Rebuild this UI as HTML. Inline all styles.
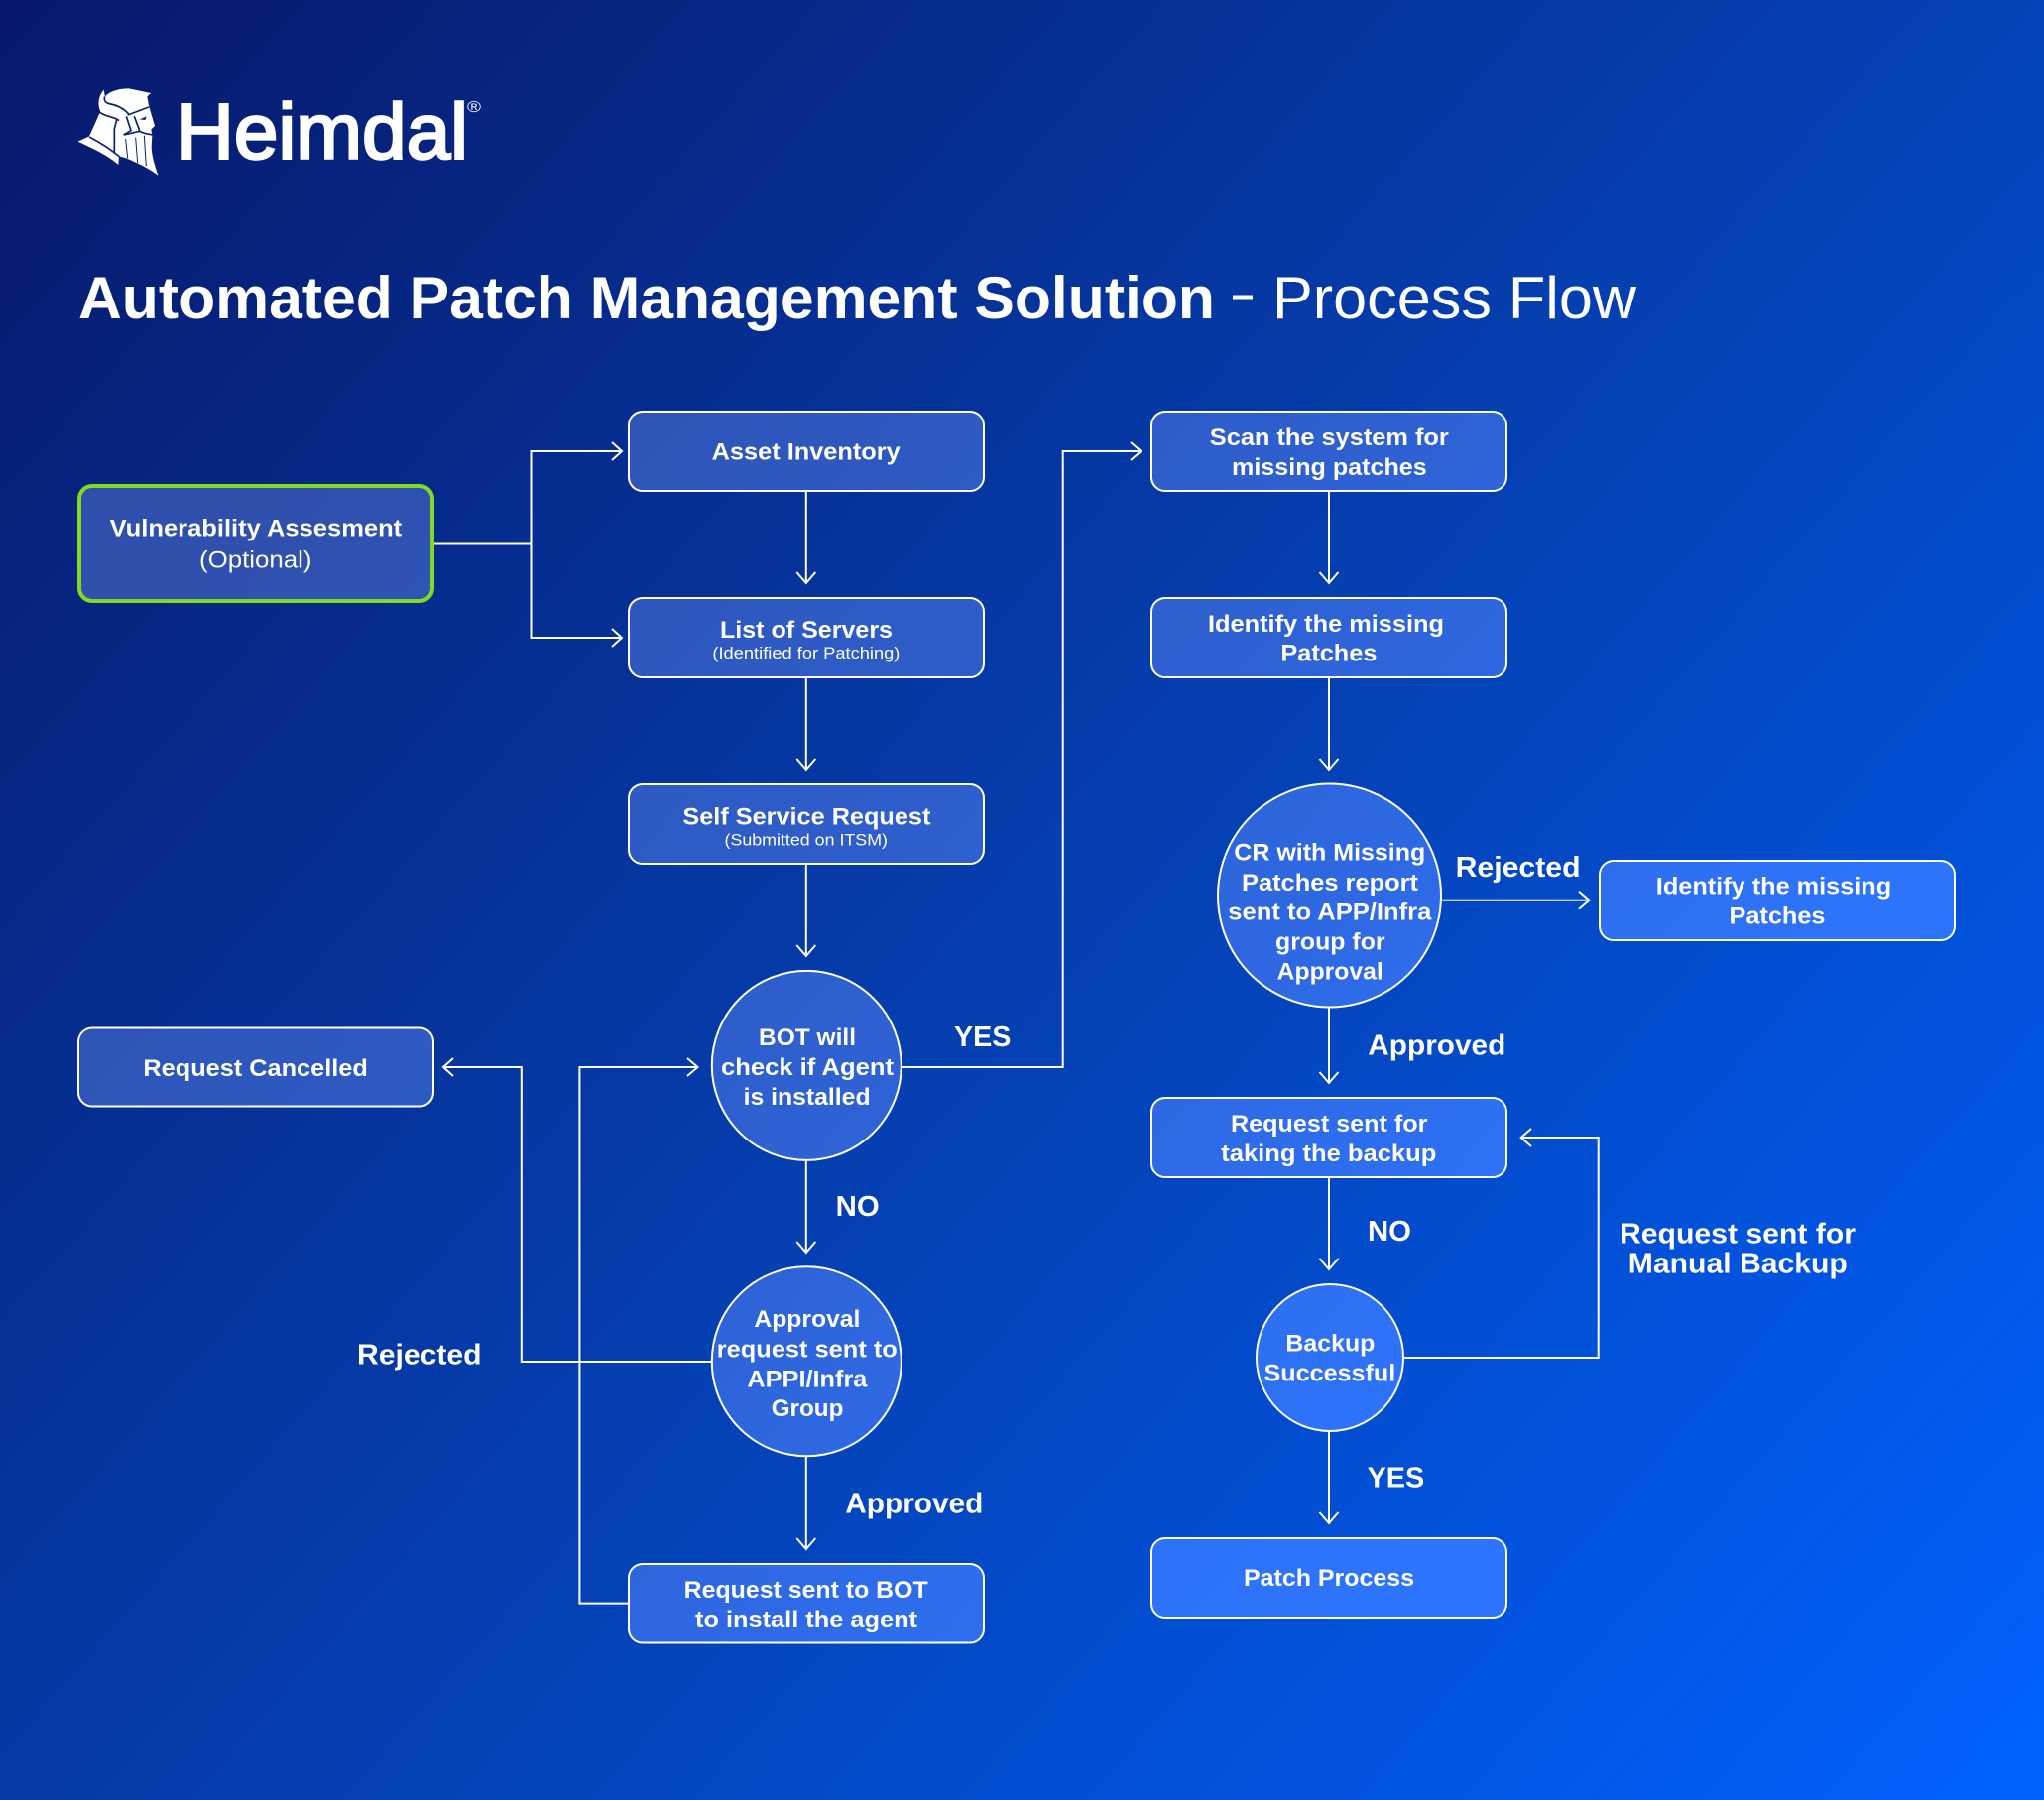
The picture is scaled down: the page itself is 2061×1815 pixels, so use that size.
<!DOCTYPE html>
<html><head><meta charset="utf-8"><title>Automated Patch Management Solution - Process Flow</title>
<style>
html,body{margin:0;padding:0;width:2061px;height:1815px;overflow:hidden;background:#053eae}
svg{display:block}
text{font-family:"Liberation Sans",sans-serif;fill:#fff;font-weight:700;font-size:24.5px}
.r{font-weight:400}
.s{font-weight:400;font-size:16.5px}
.l{font-size:28.5px}
.b{fill:url(#f);stroke:#fff;stroke-width:2}
.c{fill:none;stroke:#fff;stroke-width:2}
</style></head><body>
<svg width="2061" height="1815" viewBox="0 0 2061 1815" xmlns="http://www.w3.org/2000/svg">
<defs>
<linearGradient id="g" gradientUnits="userSpaceOnUse" x1="0" y1="0" x2="2061" y2="1815">
<stop offset="0" stop-color="#07186a"/><stop offset=".5" stop-color="#053eae"/><stop offset="1" stop-color="#0062ff"/></linearGradient>
<linearGradient id="f" gradientUnits="userSpaceOnUse" x1="0" y1="0" x2="2061" y2="1815">
<stop offset=".2" stop-color="#2f50ad"/><stop offset=".48" stop-color="#2e60d0"/><stop offset=".73" stop-color="#2d74fb"/><stop offset="1" stop-color="#2d78ff"/></linearGradient>
</defs>
<rect width="2061" height="1815" fill="url(#g)"/>

<!-- logo -->
<g transform="translate(70,80) scale(.3333)">
<path fill="#fff" d="M104 32C88 50 84 78 94 97L60 172L26 188C60 205 110 225 148 258L150 232L172 238C195 248 235 265 268 290C260 265 250 240 248 205L250 170L247 152L258 141L240 80L235 52L246 42L180 28C150 28 122 36 108 52C106 45 105 38 104 32Z"/>
<g fill="none" stroke="#08216f" stroke-width="5">
<path d="M107 52C103 66 110 72 125 75C150 80 168 92 180 106"/>
<path d="M92 100C112 115 135 112 150 125"/>
<path d="M176 108L240 84"/>
<path d="M196 112L212 155"/>
<path d="M172 112L186 155L164 168"/>
<path d="M164 168L212 157C225 165 238 165 252 168"/>
<path d="M143 122L136 150L136 224"/>
<path d="M60 174C95 192 125 212 152 234"/>
<path stroke-width="3" d="M170 180L176 238M200 176L206 252M226 170L232 262"/>
</g>
<path fill="#08216f" d="M212 121L233 112L229 123Z"/>
</g>
<text x="178" y="159.5" class="r" style="font-size:79px;stroke:#fff;stroke-width:2.5" textLength="294" lengthAdjust="spacingAndGlyphs">Heimdal</text>
<text x="471" y="113" class="r" style="font-size:16px" textLength="14" lengthAdjust="spacingAndGlyphs">®</text>

<!-- title -->
<text x="79" y="321" style="font-size:60px" textLength="1146" lengthAdjust="spacingAndGlyphs">Automated Patch Management Solution</text>
<rect x="1243" y="297.5" width="20" height="4" fill="#fff"/>
<text x="1283" y="321" class="r" style="font-size:60px" textLength="367" lengthAdjust="spacingAndGlyphs">Process Flow</text>

<!-- connectors -->
<g class="c">
<path class="c" d="M436 548.5H535.5M626 455H535.5V643H626"/>
<path class="c" d="M617 446L627 455L617 464M617 634L627 643L617 652"/>
<path class="c" d="M812.8 495V587M812.8 683V775M812.8 871V963M812.8 1170V1262M812.8 1468V1561"/>
<path class="c" d="M803.3 577L812.8 588L822.3 577M803.3 765L812.8 776L822.3 765M803.3 953L812.8 964L822.3 953M803.3 1252L812.8 1263L822.3 1252M803.3 1551L812.8 1562L822.3 1551"/>
<path class="c" d="M717.7 1373H525.8V1076H448"/>
<path class="c" d="M457 1067L447 1076L457 1085"/>
<path class="c" d="M633.5 1616.6H584.4V1076H703"/>
<path class="c" d="M693 1067L703.5 1076L693 1085"/>
<path class="c" d="M909 1076H1071.7V455H1150"/>
<path class="c" d="M1140 446L1150.5 455L1140 464"/>
<path class="c" d="M1340 495V587M1340 683V775M1340 1016V1091M1340 1187V1279M1340 1443V1535"/>
<path class="c" d="M1330.5 577L1340 588L1349.5 577M1330.5 765L1340 776L1349.5 765M1330.5 1081L1340 1092L1349.5 1081M1330.5 1269L1340 1280L1349.5 1269M1330.5 1525L1340 1536L1349.5 1525"/>
<path class="c" d="M1452 907.7H1602"/>
<path class="c" d="M1592 898.7L1602.5 907.7L1592 916.7"/>
<path class="c" d="M1415 1369H1611.7V1147H1534"/>
<path class="c" d="M1544 1138L1533.7 1147L1544 1156"/>
</g>

<!-- boxes -->
<rect class="b" x="80" y="490" width="356" height="116" rx="13" style="stroke:#7fdc1f;stroke-width:4"/>
<rect class="b" x="634" y="415" width="358" height="80" rx="14"/>
<rect class="b" x="634" y="603" width="358" height="80" rx="14"/>
<rect class="b" x="634" y="791" width="358" height="80" rx="14"/>
<rect class="b" x="79" y="1036.5" width="358" height="79" rx="14"/>
<rect class="b" x="634" y="1577" width="358" height="79.5" rx="14"/>
<rect class="b" x="1161" y="415" width="358" height="80" rx="14"/>
<rect class="b" x="1161" y="603" width="358" height="80" rx="14"/>
<rect class="b" x="1613" y="868" width="358" height="80" rx="14"/>
<rect class="b" x="1161" y="1107" width="358" height="80" rx="14"/>
<rect class="b" x="1161" y="1551" width="358" height="80" rx="14"/>
<circle class="b" cx="813.3" cy="1074.4" r="95.5"/>
<circle class="b" cx="813.3" cy="1372.8" r="95.5"/>
<circle class="b" cx="1340.5" cy="903" r="112.5"/>
<circle class="b" cx="1341" cy="1369" r="74"/>

<!-- box text -->
<text x="110.6" y="540.7" textLength="294.6" lengthAdjust="spacingAndGlyphs">Vulnerability Assesment</text>
<text x="201" y="572.7" class="r" textLength="113.5" lengthAdjust="spacingAndGlyphs">(Optional)</text>
<text x="717.7" y="463.3" textLength="190" lengthAdjust="spacingAndGlyphs">Asset Inventory</text>
<text x="726" y="643" textLength="174" lengthAdjust="spacingAndGlyphs">List of Servers</text>
<text x="718.4" y="664" class="s" textLength="189" lengthAdjust="spacingAndGlyphs">(Identified for Patching)</text>
<text x="688.4" y="831.7" textLength="250" lengthAdjust="spacingAndGlyphs">Self Service Request</text>
<text x="730.5" y="852.5" class="s" textLength="164.5" lengthAdjust="spacingAndGlyphs">(Submitted on ITSM)</text>
<text x="144.4" y="1084.9" textLength="226.4" lengthAdjust="spacingAndGlyphs">Request Cancelled</text>
<text x="765" y="1054" textLength="98" lengthAdjust="spacingAndGlyphs">BOT will</text>
<text x="727" y="1084" textLength="174" lengthAdjust="spacingAndGlyphs">check if Agent</text>
<text x="749.6" y="1113.8" textLength="128" lengthAdjust="spacingAndGlyphs">is installed</text>
<text x="760.4" y="1338" textLength="107" lengthAdjust="spacingAndGlyphs">Approval</text>
<text x="722.8" y="1368.6" textLength="182" lengthAdjust="spacingAndGlyphs">request sent to</text>
<text x="753.4" y="1398.5" textLength="121" lengthAdjust="spacingAndGlyphs">APPI/Infra</text>
<text x="777.7" y="1428" textLength="72.7" lengthAdjust="spacingAndGlyphs">Group</text>
<text x="689.7" y="1611" textLength="246" lengthAdjust="spacingAndGlyphs">Request sent to BOT</text>
<text x="701" y="1641" textLength="224" lengthAdjust="spacingAndGlyphs">to install the agent</text>
<text x="1219.8" y="449" textLength="241" lengthAdjust="spacingAndGlyphs">Scan the system for</text>
<text x="1242" y="479" textLength="196.7" lengthAdjust="spacingAndGlyphs">missing patches</text>
<text x="1218" y="637" textLength="238" lengthAdjust="spacingAndGlyphs">Identify the missing</text>
<text x="1291.4" y="666.7" textLength="97" lengthAdjust="spacingAndGlyphs">Patches</text>
<text x="1244.3" y="867.7" textLength="193" lengthAdjust="spacingAndGlyphs">CR with Missing</text>
<text x="1252" y="898" textLength="178" lengthAdjust="spacingAndGlyphs">Patches report</text>
<text x="1238.3" y="927.7" textLength="205" lengthAdjust="spacingAndGlyphs">sent to APP/Infra</text>
<text x="1286" y="957.7" textLength="110.6" lengthAdjust="spacingAndGlyphs">group for</text>
<text x="1287.7" y="987.3" textLength="107" lengthAdjust="spacingAndGlyphs">Approval</text>
<text x="1669.8" y="901.7" textLength="237.4" lengthAdjust="spacingAndGlyphs">Identify the missing</text>
<text x="1743.5" y="931.7" textLength="97" lengthAdjust="spacingAndGlyphs">Patches</text>
<text x="1241" y="1141" textLength="198.4" lengthAdjust="spacingAndGlyphs">Request sent for</text>
<text x="1231.3" y="1171" textLength="217" lengthAdjust="spacingAndGlyphs">taking the backup</text>
<text x="1296.4" y="1362.7" textLength="90" lengthAdjust="spacingAndGlyphs">Backup</text>
<text x="1274.5" y="1392.7" textLength="132.7" lengthAdjust="spacingAndGlyphs">Successful</text>
<text x="1254" y="1599" textLength="172" lengthAdjust="spacingAndGlyphs">Patch Process</text>

<!-- labels -->
<text x="962" y="1055" class="l" textLength="57.4" lengthAdjust="spacingAndGlyphs">YES</text>
<text x="842.7" y="1226" class="l" textLength="44" lengthAdjust="spacingAndGlyphs">NO</text>
<text x="360" y="1375.5" class="l" textLength="125.6" lengthAdjust="spacingAndGlyphs">Rejected</text>
<text x="852.3" y="1525.6" class="l" textLength="139" lengthAdjust="spacingAndGlyphs">Approved</text>
<text x="1467.6" y="884" class="l" textLength="126" lengthAdjust="spacingAndGlyphs">Rejected</text>
<text x="1379.3" y="1063.3" class="l" textLength="139" lengthAdjust="spacingAndGlyphs">Approved</text>
<text x="1379" y="1251" class="l" textLength="44" lengthAdjust="spacingAndGlyphs">NO</text>
<text x="1633" y="1253.3" class="l" textLength="238" lengthAdjust="spacingAndGlyphs">Request sent for</text>
<text x="1641.8" y="1283.3" class="l" textLength="221" lengthAdjust="spacingAndGlyphs">Manual Backup</text>
<text x="1378.6" y="1499.3" class="l" textLength="57.6" lengthAdjust="spacingAndGlyphs">YES</text>
</svg>
</body></html>
